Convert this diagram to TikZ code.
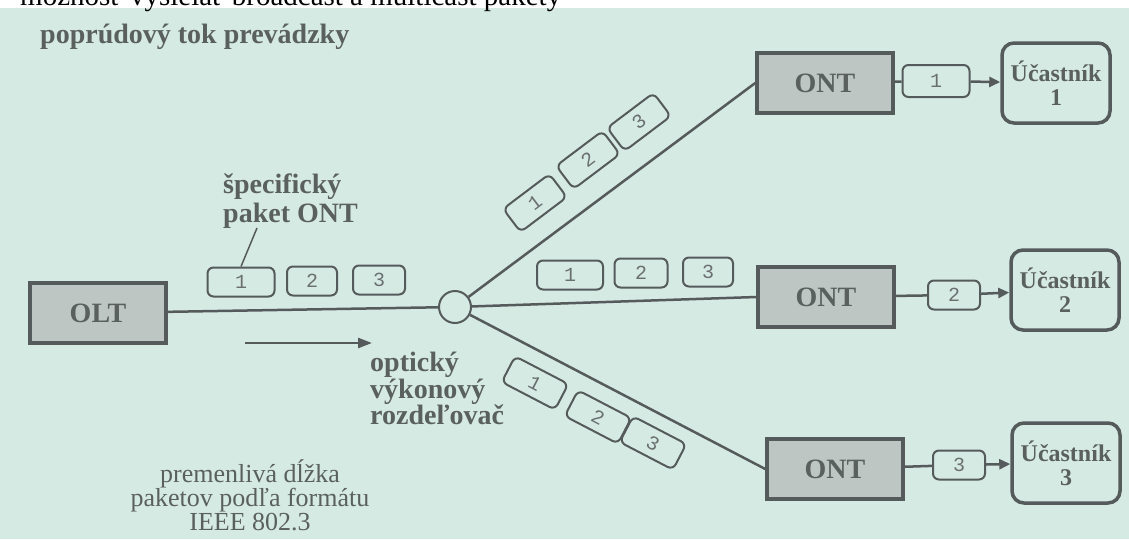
\documentclass[tikz,border=0pt]{standalone}
\usepackage{fontspec}
\setmainfont{Liberation Serif}
\newfontfamily\pktfont{Liberation Mono}
\usetikzlibrary{arrows.meta,positioning,calc}
\definecolor{slide}{HTML}{D6EAE4}
\definecolor{ink}{HTML}{555A5A}
\definecolor{boxfill}{HTML}{BEC6C3}
\definecolor{labelink}{HTML}{5A605E}
\definecolor{pktink}{HTML}{6A7070}
\tikzset{
  unit/.style={draw=ink,line width=3.5pt,fill=boxfill,minimum width=136pt,minimum height=60pt,
    font=\fontsize{28}{30}\selectfont\bfseries,text=labelink},
  user/.style={draw=ink,line width=3.5pt,rounded corners=12pt,fill=slide,minimum width=108pt,
    minimum height=80pt,align=center,inner sep=2pt,font=\fontsize{24}{24}\selectfont\bfseries,text=labelink},
  packet/.style={draw=ink,line width=2pt,rounded corners=6pt,minimum height=29pt,inner sep=0pt,
    fill=slide,font=\pktfont\fontsize{20}{20}\selectfont,text=pktink},
  splitter/.style={circle,draw=ink,line width=2pt,fill=slide,minimum size=32pt,inner sep=0pt},
  fiber/.style={draw=ink,line width=2.5pt},
  boldtext/.style={font=\fontsize{28}{24}\selectfont\bfseries,text=labelink,inner sep=0pt},
  plaintext/.style={font=\fontsize{26}{24}\selectfont,text=labelink,inner sep=0pt}
}

\begin{document}
\begin{tikzpicture}[x=1pt,y=-1pt,>=Stealth]
  \clip (0,0) rectangle (1129,539);
  \fill[slide] (0,0) rectangle (1129,539);
  \fill[white] (0,0) rectangle (1129,8);
  \node[anchor=base west,inner sep=0pt,font=\fontsize{29}{30}\selectfont,text=black] (slidetext) at (20,5)
    {možnosť vysielať broadcast a multicast pakety};
  \node[boldtext,anchor=base west] (title) at (40,43) {poprúdový tok prevádzky};

  % line terminal, splitter and the three units
  \node[unit] (olt) at (98,313) {OLT};
  \node[splitter] (split) at (455,307) {};
  \node[unit] (ont1) at (825,83) {ONT};
  \node[unit] (ont2) at (826,297) {ONT};
  \node[unit] (ont3) at (835,469) {ONT};

  \draw[fiber] (olt) -- (split);
  \draw[fiber] (split) -- (ont1.west);
  \draw[fiber] (split) -- (ont2.west);
  \draw[fiber] (split) -- (ont3.west);

  % packets before the splitter
  \node[packet,minimum width=67pt] (pa1) at (241,282) {1};
  \node[packet,minimum width=50pt] (pa2) at (312,281) {2};
  \node[packet,minimum width=52pt] (pa3) at (379,280) {3};

  % packets on each branch
  \node[packet,minimum width=58pt,rotate=37] (pt1) at (535,203) {1};
  \node[packet,minimum width=58pt,rotate=37] (pt2) at (588,160) {2};
  \node[packet,minimum width=58pt,rotate=37] (pt3) at (639,122) {3};
  \node[packet,minimum width=66pt] (pm1) at (570,275) {1};
  \node[packet,minimum width=53pt] (pm2) at (641,273) {2};
  \node[packet,minimum width=50pt] (pm3) at (708,272) {3};
  \node[packet,minimum width=60pt,rotate=-27.5] (pb1) at (535,383) {1};
  \node[packet,minimum width=60pt,rotate=-27.5] (pb2) at (598,417) {2};
  \node[packet,minimum width=60pt,rotate=-27.5] (pb3) at (653,443) {3};

  % subscribers
  \node[user] (u1) at (1056,83) {Účastník\\1};
  \node[user] (u2) at (1065,290) {Účastník\\2};
  \node[user] (u3) at (1066,463) {Účastník\\3};
  \node[packet,minimum width=67pt,minimum height=32pt] (po1) at (936,81) {1};
  \node[packet,minimum width=52pt] (po2) at (954,295) {2};
  \node[packet,minimum width=52pt] (po3) at (959,465) {3};
  \draw[fiber] (ont1) -- (po1);
  \draw[fiber] (ont2) -- (po2);
  \draw[fiber] (ont3) -- (po3);
  \draw[fiber,-{Triangle[length=11pt,width=10pt]}] (po1) -- (u1);
  \draw[fiber,-{Triangle[length=11pt,width=10pt]}] (po2) -- (u2);
  \draw[fiber,-{Triangle[length=11pt,width=10pt]}] (po3) -- (u3);

  % labels
  \node[boldtext,font=\fontsize{28}{29}\selectfont\bfseries,align=left,anchor=north west] (spec) at (223,174)
    {špecifický\\paket ONT};
  \coordinate (specfoot) at (257,228);
  \draw[fiber,line width=1.5pt] (specfoot) -- (pa1.north);
  \node[boldtext,align=left,anchor=north west] (splitname) at (370,352) {optický\\výkonový\\rozdeľovač};
  \node[plaintext,align=center,anchor=north] (framenote) at (250,459)
    {premenlivá dĺžka\\paketov podľa formátu\\IEEE 802.3};

  % direction of traffic
  \coordinate (flowA) at (245,343);
  \coordinate (flowB) at (372,343);
  \draw[fiber,-{Triangle[length=14pt,width=10pt]}] (flowA) -- (flowB);
\end{tikzpicture}
\end{document}
